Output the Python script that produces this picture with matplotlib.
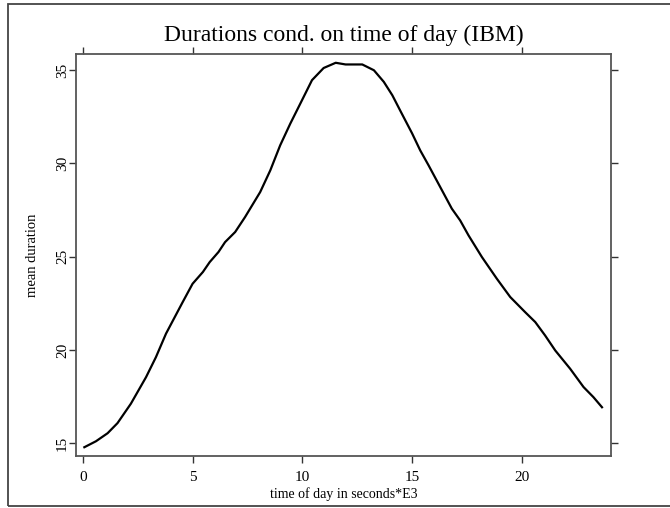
import matplotlib
matplotlib.use("Agg")
import matplotlib.pyplot as plt
from matplotlib.patches import Rectangle

# time of day (seconds*E3) and mean duration
hour = [0.07, 0.6, 1.13, 1.58, 2.19, 2.88, 3.33, 3.79, 4.55, 5.0, 5.47, 5.78,
        6.18, 6.48, 6.94, 7.39, 8.08, 8.54, 8.99, 9.45, 9.91, 10.44, 10.97,
        11.52, 11.97, 12.73, 13.26, 13.71, 14.1, 14.49, 15.0, 15.37, 15.75,
        16.28, 16.81, 17.19, 17.57, 18.18, 18.86, 19.47, 20.15, 20.61, 21.06,
        21.52, 22.2, 22.81, 23.26, 23.65]
mean_dur = [14.8, 15.12, 15.55, 16.09, 17.13, 18.55, 19.62, 20.88, 22.57, 23.55,
            24.18, 24.71, 25.25, 25.78, 26.32, 27.12, 28.46, 29.62, 30.96, 32.12,
            33.2, 34.45, 35.1, 35.38, 35.29, 35.29, 34.98, 34.36, 33.64, 32.75,
            31.6, 30.69, 29.89, 28.73, 27.57, 26.94, 26.14, 24.98, 23.82, 22.84,
            22.03, 21.5, 20.78, 19.98, 19.0, 18.02, 17.48, 16.94]
xticks = [0, 5, 10, 15, 20]
yticks = [15, 20, 25, 30, 35]

plt.rcParams['font.family'] = ['Liberation Serif', 'DejaVu Serif']
W, H = 670, 508
fig = plt.figure(figsize=(W / 100, H / 100), dpi=100)

# outer frame around the whole figure
fig.patches.append(Rectangle((8 / W, 2 / H), (W + 5 - 8) / W, (H - 6) / H,
                             transform=fig.transFigure, fill=False,
                             edgecolor='#444444', linewidth=1.3))

ax = fig.add_axes([76 / W, 1 - 456 / H, (611 - 76) / W, (456 - 54) / H])
ax.plot(hour, mean_dur, color='black', linewidth=1.6)

ax.set_xlim(-0.31, 24.06)
ax.set_ylim(14.33, 35.85)
ax.set_xticks(xticks)
ax.set_yticks(yticks)
ax.tick_params(axis='both', direction='out', length=5, width=1.0,
               color='#333333', labelsize=11,
               top=True, right=True, labeltop=False, labelright=False)
ax.tick_params(axis='x', pad=6)
ax.tick_params(axis='y', pad=0)
for lab in ax.get_yticklabels():
    lab.set_rotation(90)
    lab.set_va('center')
for sp in ax.spines.values():
    sp.set_color('#555555')
    sp.set_linewidth(1.3)

ax.set_title('Durations cond. on time of day (IBM)', fontsize=17, pad=9)
ax.set_xlabel('time of day in seconds*E3', fontsize=10, labelpad=2)
ax.set_ylabel('mean duration', fontsize=10.5, labelpad=12)

fig.savefig('out.png', dpi=100)
